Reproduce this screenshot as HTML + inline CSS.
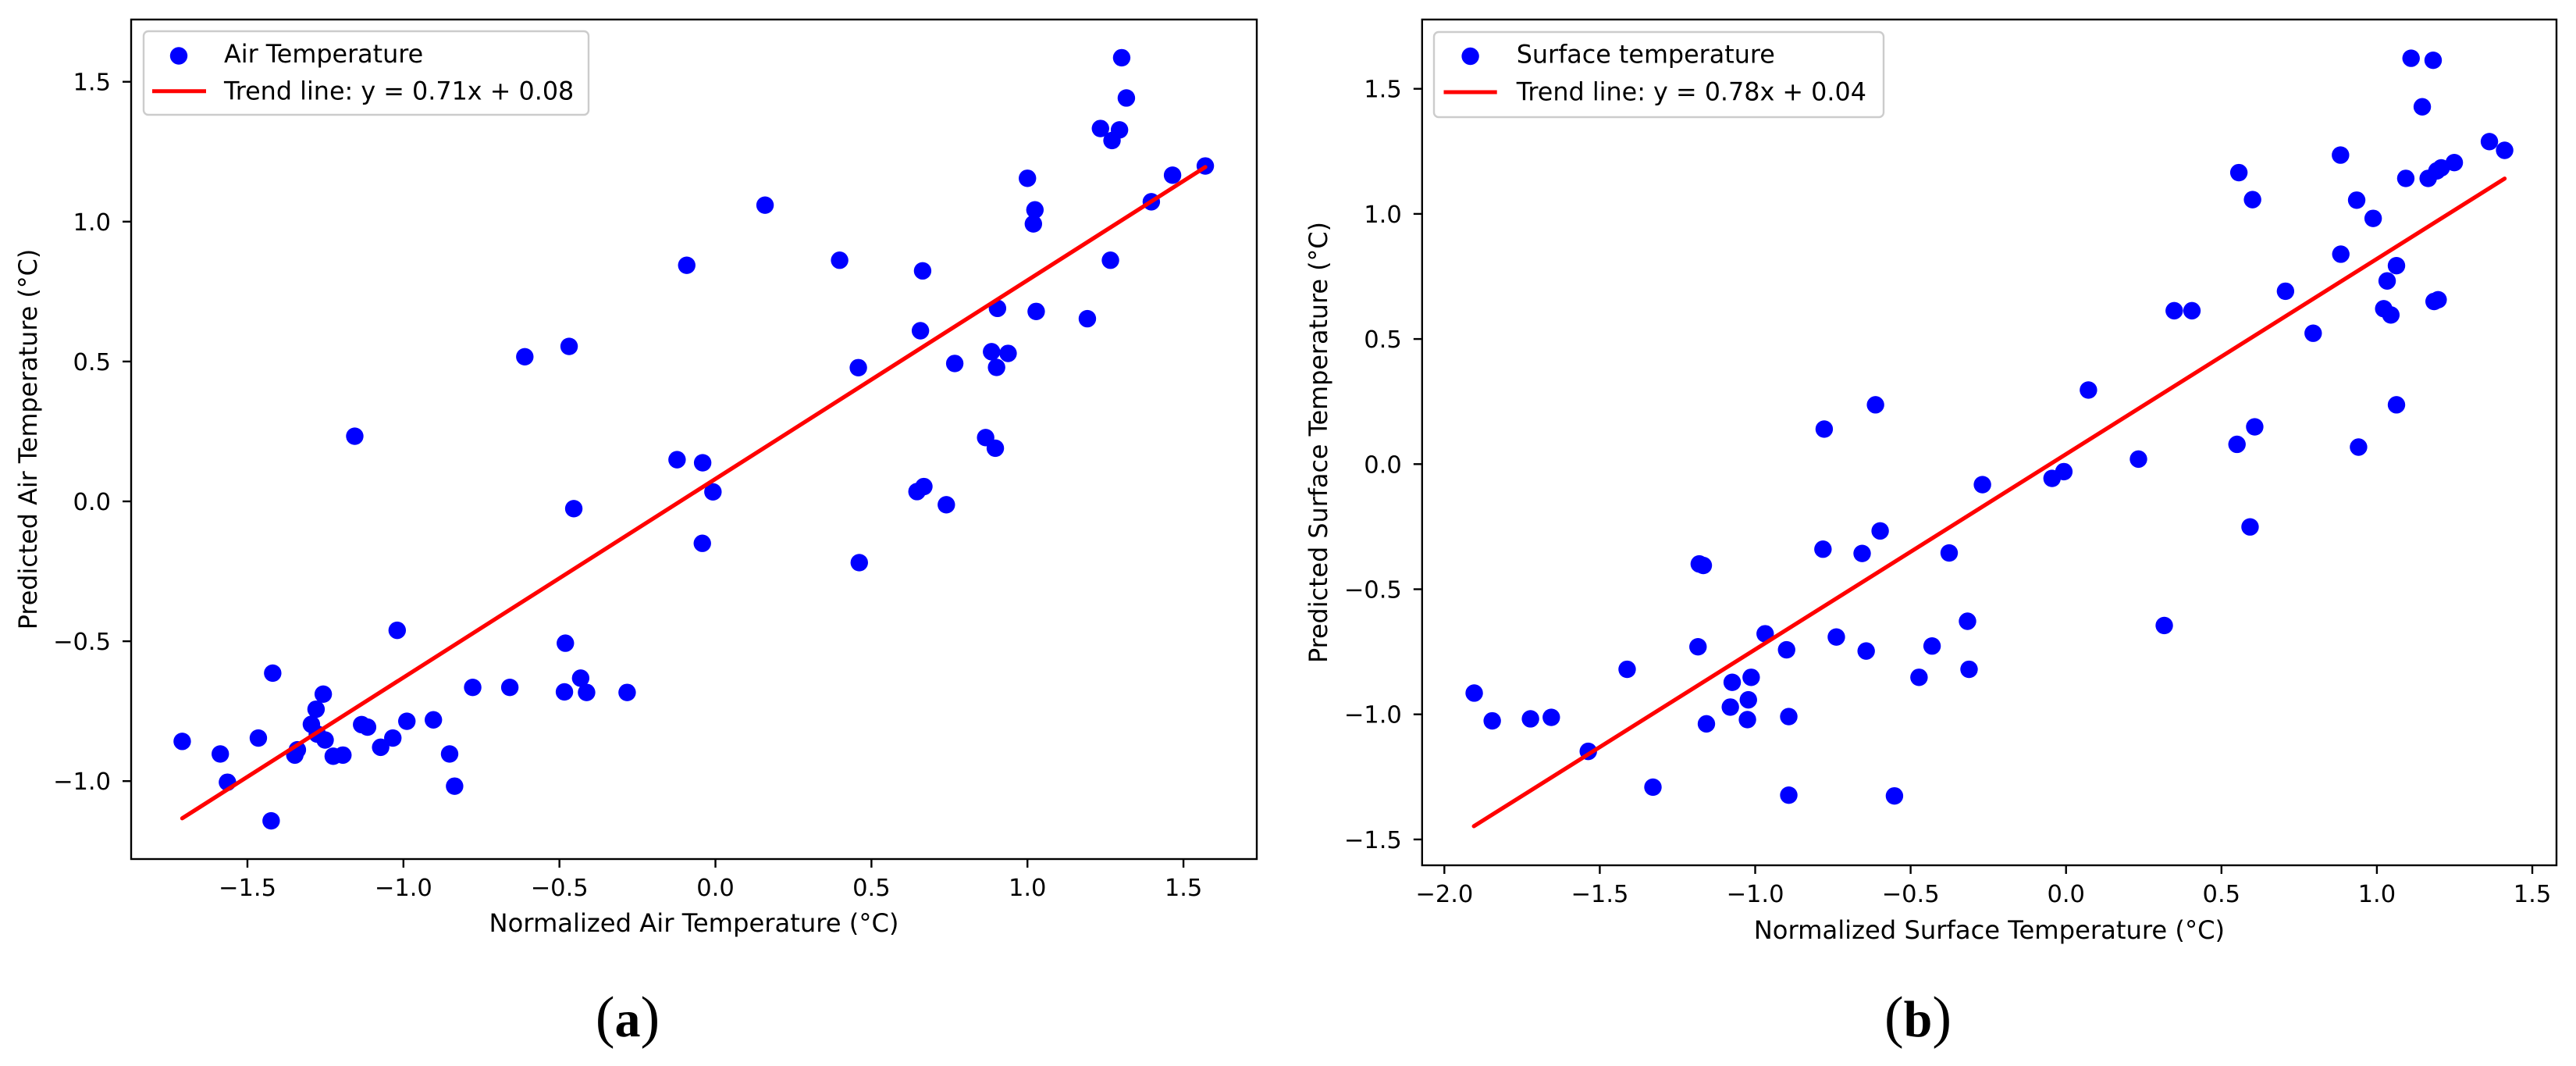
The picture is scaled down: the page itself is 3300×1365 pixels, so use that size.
<!DOCTYPE html>
<html lang="en">
<head>
<meta charset="utf-8">
<title>Predicted vs normalized temperature</title>
<style>
html,body{margin:0;padding:0;background:#fff;width:3300px;height:1365px;overflow:hidden}
svg{display:block}
text{font-family:"DejaVu Sans","Liberation Sans",sans-serif;fill:#000}
.caption{font-family:"Liberation Serif",serif;font-size:74px}
.caption tspan{font-size:66px;font-weight:bold}
</style>
</head>
<body>
<svg id="figure" xmlns="http://www.w3.org/2000/svg" width="3300" height="1365" viewBox="0 0 3300 1365">
  <rect x="0" y="0" width="3300" height="1365" fill="#fff"/>
  <g id="panel-a"></g>
  <g id="panel-b"></g>
  <text class="caption" x="804" y="1327" text-anchor="middle">(<tspan>a</tspan>)</text>
  <text class="caption" x="2457" y="1327" text-anchor="middle">(<tspan>b</tspan>)</text>
</svg>
<script>
const airX = [-1.709,-1.587,-1.564,-1.465,-1.419,-1.424,-1.348,-1.340,-1.295,-1.280,-1.257,-1.276,-1.251,-1.225,-1.194,-1.134,-1.115,-1.073,-1.034,-1.020,-0.989,-0.904,-0.852,-0.836,-0.778,-0.659,-0.484,-0.481,-0.454,-0.432,-0.413,-0.283,-0.008,-0.042,0.461,0.646,0.668,0.740,1.302,1.317,1.234,1.295,1.271,1.000,1.465,1.570,1.397,1.024,1.019,0.159,-0.092,0.398,0.664,1.266,0.904,1.028,1.192,0.657,0.885,0.938,0.901,0.767,0.458,0.866,0.897,-0.123,-0.041,-1.156,-0.611,-0.469];
const airY = [-0.858,-0.903,-1.004,-0.846,-0.614,-1.142,-0.907,-0.888,-0.797,-0.743,-0.689,-0.832,-0.853,-0.911,-0.907,-0.798,-0.807,-0.879,-0.846,-0.461,-0.786,-0.781,-0.903,-1.018,-0.665,-0.665,-0.681,-0.507,-0.026,-0.632,-0.683,-0.683,0.034,-0.150,-0.219,0.035,0.053,-0.012,1.586,1.442,1.333,1.328,1.290,1.155,1.166,1.199,1.071,1.042,0.992,1.059,0.844,0.862,0.824,0.862,0.690,0.679,0.653,0.610,0.535,0.529,0.479,0.493,0.478,0.228,0.190,0.149,0.138,0.233,0.517,0.554];
const airTrendX = [-1.709,1.57];
const airTrendY = [-1.133,1.195];
const airXTicks = [-1.5,-1.0,-0.5,0.0,0.5,1.0,1.5];
const airYTicks = [-1.0,-0.5,0.0,0.5,1.0,1.5];
const airXTickLabels = ['\u22121.5','\u22121.0','\u22120.5','0.0','0.5','1.0','1.5'];
const airYTickLabels = ['\u22121.0','\u22120.5','0.0','0.5','1.0','1.5'];

const surfaceX = [-1.904,-1.846,-1.723,-1.656,-1.537,-1.412,-1.329,-1.184,-1.180,-1.167,-1.157,-1.080,-1.074,-1.022,-1.025,-1.013,-0.968,-0.899,-0.892,-0.892,-0.782,-0.739,-0.656,-0.643,-0.598,-0.552,-0.473,-0.431,-0.376,-0.269,-0.317,-0.312,-0.045,-0.007,0.316,0.592,1.110,1.181,1.146,1.362,1.411,1.249,1.207,1.193,1.093,1.165,0.883,0.556,0.600,0.935,0.988,0.884,1.063,1.033,0.706,1.022,1.045,1.197,1.184,0.795,0.348,0.405,0.072,1.063,0.607,0.550,0.941,0.233,-0.778,-0.613];
const surfaceY = [-0.915,-1.026,-1.018,-1.012,-1.148,-0.820,-1.291,-0.730,-0.399,-0.405,-1.038,-0.971,-0.872,-0.942,-1.021,-0.852,-0.678,-0.742,-1.009,-1.323,-0.340,-0.691,-0.357,-0.747,-0.267,-1.326,-0.852,-0.727,-0.355,-0.082,-0.628,-0.820,-0.057,-0.030,-0.645,-0.251,1.622,1.614,1.428,1.289,1.254,1.205,1.184,1.172,1.142,1.142,1.235,1.165,1.057,1.055,0.982,0.839,0.793,0.732,0.691,0.621,0.596,0.657,0.650,0.523,0.613,0.613,0.296,0.237,0.149,0.079,0.068,0.020,0.140,0.237];
const surfaceTrendX = [-1.905,1.411];
const surfaceTrendY = [-1.447,1.141];
const surfaceXTicks = [-2.0,-1.5,-1.0,-0.5,0.0,0.5,1.0,1.5];
const surfaceYTicks = [-1.5,-1.0,-0.5,0.0,0.5,1.0,1.5];
const surfaceXTickLabels = ['\u22122.0','\u22121.5','\u22121.0','\u22120.5','0.0','0.5','1.0','1.5'];
const surfaceYTickLabels = ['\u22121.5','\u22121.0','\u22120.5','0.0','0.5','1.0','1.5'];

const SVG_NS = 'http://www.w3.org/2000/svg';
function make(parent, tag, props, content) {
  const el = document.createElementNS(SVG_NS, tag);
  for (const k in props) el.setAttribute(k, props[k]);
  if (content !== undefined) el.textContent = content;
  parent.appendChild(el);
  return el;
}
function linearScale(domain, range) {
  return v => range[0] + (v - domain[0]) * (range[1] - range[0]) / (domain[1] - domain[0]);
}
function drawPanel(cfg) {
  const g = document.getElementById(cfg.id);
  const sx = linearScale(cfg.xlim, [cfg.left, cfg.right]);
  const sy = linearScale(cfg.ylim, [cfg.bottom, cfg.top]);
  const cx = (cfg.left + cfg.right) / 2;
  const cy = (cfg.top + cfg.bottom) / 2;

  cfg.xs.forEach((xv, i) => {
    const dot = make(g, 'circle', {cx: sx(xv), cy: sy(cfg.ys[i]), r: 11.2, fill: '#0000ff'});
    
    
  });

  const trend = make(g, 'line', {
    x1: sx(cfg.trendX[0]), y1: sy(cfg.trendY[0]),
    x2: sx(cfg.trendX[1]), y2: sy(cfg.trendY[1]),
    stroke: '#ff0000', 'stroke-width': 5.2, 'stroke-linecap': 'round'
  });
  
  

  const frame = make(g, 'rect', {
    x: cfg.left, y: cfg.top, width: cfg.right - cfg.left, height: cfg.bottom - cfg.top,
    fill: 'none', stroke: '#000', 'stroke-width': 2.4
  });
  
  

  cfg.xTicks.forEach((t, i) => {
    const mark = make(g, 'line', {x1: sx(t), x2: sx(t), y1: cfg.bottom, y2: cfg.bottom + 11, stroke: '#000', 'stroke-width': 2.4});
    
    
    const label = make(g, 'text', {x: sx(t), y: cfg.bottom + 47, 'text-anchor': 'middle', 'font-size': 30.5}, cfg.xTickLabels[i]);
    
    
  });
  cfg.yTicks.forEach((t, i) => {
    const mark = make(g, 'line', {x1: cfg.left - 11, x2: cfg.left, y1: sy(t), y2: sy(t), stroke: '#000', 'stroke-width': 2.4});
    
    
    const label = make(g, 'text', {x: cfg.left - 26, y: sy(t) + 11, 'text-anchor': 'end', 'font-size': 30.5}, cfg.yTickLabels[i]);
    
    
  });

  const xTitle = make(g, 'text', {x: cx, y: cfg.xTitleY, 'text-anchor': 'middle', 'font-size': 32.2}, cfg.xTitle);
  
  
  const yTitle = make(g, 'text', {x: 0, y: 0, 'text-anchor': 'middle', 'font-size': 31.8, transform: `translate(${cfg.yTitleX} ${cy}) rotate(-90)`}, cfg.yTitle);
  
  

  const L = cfg.legend;
  const box = make(g, 'rect', {x: L.x, y: L.y, width: L.w, height: L.h, rx: 6, ry: 6, fill: '#fff', 'fill-opacity': 0.8, stroke: '#cccccc', 'stroke-width': 2.4});
  
  
  const swatchDot = make(g, 'circle', {cx: L.dotX, cy: L.dotY, r: 11.2, fill: '#0000ff'});
  
  
  const dotText = make(g, 'text', {x: L.textX, y: L.base1, 'font-size': 31.8}, L.label1);
  
  
  const swatchLine = make(g, 'line', {x1: L.lineX1, x2: L.lineX2, y1: L.lineY, y2: L.lineY, stroke: '#ff0000', 'stroke-width': 5});
  
  
  const lineText = make(g, 'text', {x: L.textX, y: L.base2, 'font-size': 31.8}, L.label2);
  
  
}

drawPanel({
  id: 'panel-a', left: 168, right: 1610, top: 25, bottom: 1100,
  xlim: [-1.8727, 1.735], ylim: [-1.2786, 1.7225],
  xs: airX, ys: airY, trendX: airTrendX, trendY: airTrendY,
  xTicks: airXTicks, yTicks: airYTicks, xTickLabels: airXTickLabels, yTickLabels: airYTickLabels,
  xTitle: 'Normalized Air Temperature (°C)', yTitle: 'Predicted Air Temperature (°C)',
  xTitleY: 1193, yTitleX: 47,
  legend: {x: 184, y: 40, w: 570, h: 107, dotX: 229, dotY: 71.5, lineX1: 195, lineX2: 264, lineY: 116.7, textX: 287, base1: 80, base2: 127.5, label1: 'Air Temperature', label2: 'Trend line: y = 0.71x + 0.08'}
});
drawPanel({
  id: 'panel-b', left: 1821.8, right: 3275, top: 25, bottom: 1108,
  xlim: [-2.0716, 1.5778], ylim: [-1.6033, 1.7768],
  xs: surfaceX, ys: surfaceY, trendX: surfaceTrendX, trendY: surfaceTrendY,
  xTicks: surfaceXTicks, yTicks: surfaceYTicks, xTickLabels: surfaceXTickLabels, yTickLabels: surfaceYTickLabels,
  xTitle: 'Normalized Surface Temperature (°C)', yTitle: 'Predicted Surface Temperature (°C)',
  xTitleY: 1202, yTitleX: 1700,
  legend: {x: 1837, y: 41, w: 576, h: 109, dotX: 1883.6, dotY: 72, lineX1: 1849.5, lineX2: 1917.7, lineY: 118, textX: 1942.7, base1: 80.5, base2: 128.5, label1: 'Surface temperature', label2: 'Trend line: y = 0.78x + 0.04'}
});
</script>
</body>
</html>
